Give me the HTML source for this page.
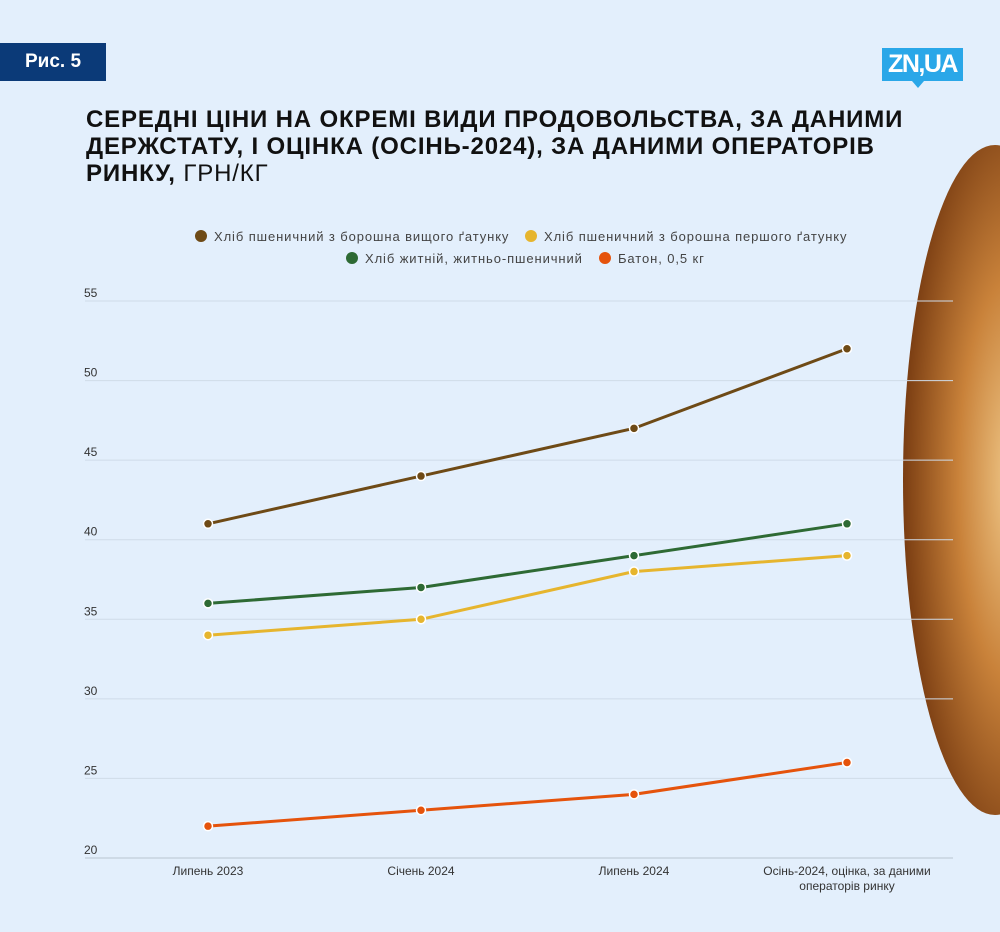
<!DOCTYPE html>
<html><head><meta charset="utf-8">
<style>
body{margin:0;background:#e3effc;font-family:"Liberation Sans",sans-serif;}
#root{position:relative;width:1000px;height:932px;overflow:hidden;background:#e3effc;}
.fig{position:absolute;left:0;top:43px;width:106px;height:38px;background:#0b3a78;color:#fff;font-weight:bold;font-size:19px;line-height:38px;text-align:center;}
.logo{position:absolute;left:882px;top:48px;width:81px;height:33px;background:#2aa7e8;color:#fff;font-weight:bold;font-size:25px;line-height:33px;text-align:center;letter-spacing:-1.5px;}
.logo:after{content:"";position:absolute;left:30px;top:33px;border-left:6px solid transparent;border-right:6px solid transparent;border-top:7px solid #2aa7e8;}
.title{position:absolute;left:86px;top:106px;width:900px;font-weight:bold;font-size:24px;line-height:27px;color:#111;letter-spacing:0.85px;white-space:nowrap;}
.title span{font-weight:normal;}
svg text{font-family:"Liberation Sans",sans-serif;}
</style></head><body>
<div id="root">
<div class="fig">Рис. 5</div>
<div class="logo">ZN,UA</div>
<div class="title">СЕРЕДНІ ЦІНИ НА ОКРЕМІ ВИДИ ПРОДОВОЛЬСТВА, ЗА ДАНИМИ<br>ДЕРЖСТАТУ, І ОЦІНКА (ОСІНЬ-2024), ЗА ДАНИМИ ОПЕРАТОРІВ<br>РИНКУ, <span>ГРН/КГ</span></div>
<svg id="chart" width="1000" height="932" style="position:absolute;left:0;top:0">
<defs>
<radialGradient id="bread" cx="0.6" cy="0.5" r="0.6">
<stop offset="0" stop-color="#f0c98a"/><stop offset="0.5" stop-color="#c9823a"/><stop offset="1" stop-color="#7a3d12"/>
</radialGradient>
</defs>
<ellipse cx="995" cy="480" rx="92" ry="335" fill="url(#bread)"/>
</svg>
</div>
<script>
const categories=["Липень 2023","Січень 2024","Липень 2024","Осінь-2024, оцінка, за даними|операторів ринку"];
const seriesNames=["Хліб пшеничний з борошна вищого ґатунку","Хліб пшеничний з борошна першого ґатунку","Хліб житній, житньо-пшеничний","Батон, 0,5 кг"];
const seriesColors=["#6e4a16","#e6b52e","#2e6a34","#e5530c"];
const premium=[41,44,47,52];
const firstGrade=[34,35,38,39];
const rye=[36,37,39,41];
const baton=[22,23,24,26];
const yTicks=[20,25,30,35,40,45,50,55];
const NS="http://www.w3.org/2000/svg";
const svg=document.getElementById('chart');
const y=v=>858-(v-20)*(557/35);
const x=i=>208+i*213;
function mk(t,a,p){const e=document.createElementNS(NS,t);for(const k in a)e.setAttribute(k,a[k]);(p||svg).appendChild(e);return e;}
yTicks.forEach(v=>{
 const l=mk('line',{x1:85,x2:953,y1:y(v),y2:y(v),stroke:v===20?'#b8c4d0':'#cfdbe8','stroke-width':1});
 
 
 const t=mk('text',{x:84,y:y(v)-4,'font-size':12,fill:'#333'});t.textContent=v;
 
 
});
categories.forEach((c,i)=>{
 c.split('|').forEach((s,j)=>{
  const t=mk('text',{x:x(i),y:875+j*15,'font-size':12,fill:'#333','text-anchor':'middle'});t.textContent=s;
  
  
 });
});
[premium,firstGrade,rye,baton].forEach((d,si)=>{
 const p=mk('polyline',{points:d.map((v,i)=>x(i)+','+y(v)).join(' '),fill:'none',stroke:seriesColors[si],'stroke-width':3});
 
 
 d.forEach((v,i)=>{
  const c=mk('circle',{cx:x(i),cy:y(v),r:4.5,fill:seriesColors[si],stroke:'#fff','stroke-width':1.5});
  
  
 });
});
const legendPos=[[201,236],[531,236],[352,258],[605,258]];
seriesNames.forEach((n,i)=>{
 const g=mk('g',{});
 
 
 mk('circle',{cx:legendPos[i][0],cy:legendPos[i][1],r:6,fill:seriesColors[i]},g);
 const t=mk('text',{x:legendPos[i][0]+13,y:legendPos[i][1]+5,'font-size':13,fill:'#444','letter-spacing':0.9},g);t.textContent=n;
});
</script>
</body></html>
